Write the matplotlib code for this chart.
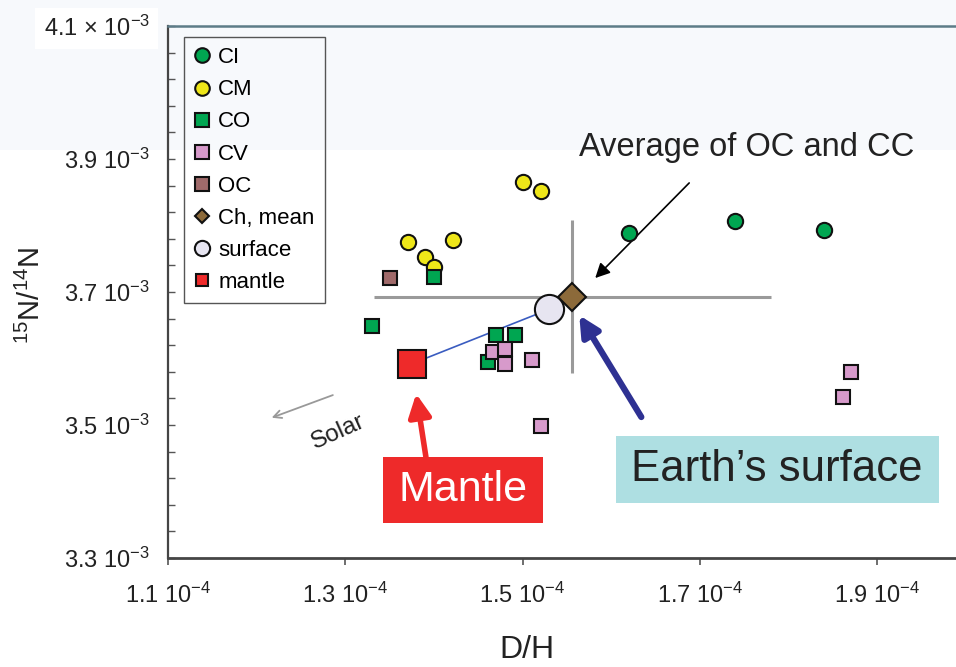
import matplotlib
matplotlib.use("Agg")
import matplotlib.pyplot as plt
from matplotlib.lines import Line2D
from matplotlib.patches import Rectangle

# ----------------------------------------------------------------------------
# Data (x = D/H in units of 1e-4, y = 15N/14N in units of 1e-3)
# ----------------------------------------------------------------------------
ci_x = [1.620, 1.740, 1.840]
ci_y = [3.789, 3.807, 3.793]

cm_x = [1.501, 1.521, 1.371, 1.421, 1.390, 1.400]
cm_y = [3.865, 3.852, 3.775, 3.778, 3.753, 3.738]

co_x = [1.400, 1.330, 1.470, 1.491, 1.461]
co_y = [3.723, 3.649, 3.635, 3.635, 3.595]

cv_x = [1.467, 1.480, 1.480, 1.511, 1.521, 1.871, 1.861]
cv_y = [3.610, 3.614, 3.592, 3.598, 3.499, 3.580, 3.542]

oc_x = [1.351]
oc_y = [3.721]

ch_mean_x, ch_mean_y = 1.556, 3.693
ch_xerr, ch_yerr = 0.224, 0.115

surface_x, surface_y = 1.530, 3.674
mantle_x, mantle_y = 1.375, 3.592

x_ticks = [1.1, 1.3, 1.5, 1.7, 1.9]
y_ticks = [3.3, 3.5, 3.7, 3.9, 4.1]
x_ticklabels = ["1.1 10$^{-4}$", "1.3 10$^{-4}$", "1.5 10$^{-4}$",
                "1.7 10$^{-4}$", "1.9 10$^{-4}$"]
y_ticklabels = ["3.3 10$^{-3}$", "3.5 10$^{-3}$", "3.7 10$^{-3}$",
                "3.9 10$^{-3}$", "4.1 \u00d7 10$^{-3}$"]

# ----------------------------------------------------------------------------
# Style
# ----------------------------------------------------------------------------
SANS = "Liberation Sans"
plt.rcParams["font.family"] = [SANS, "DejaVu Sans"]
plt.rcParams["mathtext.fontset"] = "custom"
plt.rcParams["mathtext.rm"] = SANS
plt.rcParams["mathtext.it"] = SANS + ":italic"
plt.rcParams["mathtext.default"] = "regular"

GREEN = "#00a651"
YELLOW = "#eee619"
PINK = "#d79acb"
BROWN = "#a06a6a"
DIAMOND = "#8c6a3a"
SURFACE = "#e7e5f1"
RED = "#ee2a2a"
NAVY = "#2e3192"
TEXT = "#222222"

fig = plt.figure(figsize=(9.56, 6.67), dpi=100)
# faint tint of the top band of the slide
fig.patches.append(Rectangle((0, 0.775), 1, 0.225, transform=fig.transFigure,
                             facecolor="#f7f9fc", edgecolor="none", zorder=-10))

ax = fig.add_axes([0.1757, 0.1634, 0.8243, 0.7976])
ax.set_facecolor("none")
ax.set_xlim(1.1, 1.989)
ax.set_ylim(3.3, 4.1)

# Ch mean error cross
ax.errorbar([ch_mean_x], [ch_mean_y], xerr=[ch_xerr], yerr=[ch_yerr], fmt="none",
            ecolor="#9a9a9a", elinewidth=2.2, capsize=0, zorder=2)

# mantle -> surface line
ax.plot([mantle_x, surface_x], [mantle_y, surface_y], color="#3a5cc0", lw=1.2, zorder=3)

mk = dict(markeredgecolor="#111111", markeredgewidth=1.5, linestyle="none", zorder=4)
ax.plot(ci_x, ci_y, "o", color=GREEN, ms=11, **mk)
ax.plot(cm_x, cm_y, "o", color=YELLOW, ms=11, **mk)
ax.plot(co_x, co_y, "s", color=GREEN, ms=10.5, **mk)
ax.plot(cv_x, cv_y, "s", color=PINK, ms=10.5, **mk)
ax.plot(oc_x, oc_y, "s", color=BROWN, ms=10.5, **mk)
ax.plot([mantle_x], [mantle_y], "s", color=RED, ms=19.5, **mk)
ax.plot([surface_x], [surface_y], "o", color=SURFACE, ms=21, **mk)
ax.plot([ch_mean_x], [ch_mean_y], "D", color=DIAMOND, ms=14, **mk)

# axes styling
ax.spines["right"].set_visible(False)
ax.spines["top"].set_color("#5d7c88")
ax.spines["top"].set_linewidth(1.8)
ax.spines["left"].set_color("#454545")
ax.spines["left"].set_linewidth(1.6)
ax.spines["bottom"].set_color("#454545")
ax.spines["bottom"].set_linewidth(2.0)

ax.set_xticks(x_ticks)
ax.set_xticklabels(x_ticklabels, fontsize=17, color=TEXT)
ax.set_yticks(y_ticks)
ax.set_yticklabels(y_ticklabels, fontsize=17, color=TEXT)
ax.set_yticks([3.3 + 0.04 * i for i in range(21)], minor=True)
ax.tick_params(axis="x", direction="out", length=5, width=1.2, pad=13, color="#555555")
ax.tick_params(axis="y", which="both", direction="in", length=5, width=1.0, pad=13,
               color="#555555")
top_label = ax.get_yticklabels()[-1]
top_label.set_bbox(dict(facecolor="white", edgecolor="none", pad=6))

ax.set_xlabel("D/H", fontsize=23, color=TEXT)
ax.xaxis.set_label_coords(0.4556, -0.145)
ax.set_ylabel("$^{15}$N/$^{14}$N", fontsize=21, color=TEXT)
ax.yaxis.set_label_coords(-0.155, 0.494)

# legend
handles = [
    Line2D([], [], marker="o", color=GREEN, ms=10.5, **mk),
    Line2D([], [], marker="o", color=YELLOW, ms=10.5, **mk),
    Line2D([], [], marker="s", color=GREEN, ms=10, **mk),
    Line2D([], [], marker="s", color=PINK, ms=10, **mk),
    Line2D([], [], marker="s", color=BROWN, ms=10, **mk),
    Line2D([], [], marker="D", color=DIAMOND, ms=7.5, **mk),
    Line2D([], [], marker="o", color=SURFACE, ms=11, **mk),
    Line2D([], [], marker="s", color=RED, ms=9, **mk),
]
labels = ["CI", "CM", "CO", "CV", "OC", "Ch, mean", "surface", "mantle"]
leg = ax.legend(handles, labels, loc="upper left", bbox_to_anchor=(0.020, 0.979),
                borderaxespad=0, fontsize=16, labelspacing=0.5, handlelength=0.7,
                handletextpad=0.4, borderpad=0.45, fancybox=False, framealpha=1)
leg.get_frame().set_facecolor("none")
leg.get_frame().set_edgecolor("#555555")
leg.get_frame().set_linewidth(1.0)

# annotations
ax.annotate("", xy=(1.582, 3.721), xytext=(1.688, 3.864),
            arrowprops=dict(arrowstyle="-|>", color="black", lw=1.2,
                            mutation_scale=22, shrinkA=0, shrinkB=0))
ax.text(1.753, 3.917, "Average of OC and CC", fontsize=23.5, ha="center", va="center",
        color=TEXT)

ax.annotate("", xy=(1.564, 3.665), xytext=(1.634, 3.512),
            arrowprops=dict(arrowstyle="-|>", color=NAVY, lw=4.5,
                            mutation_scale=30, shrinkA=0, shrinkB=0))
ax.add_patch(Rectangle((1.605, 3.383), 0.365, 0.100, facecolor="#aedfe2",
                       edgecolor="none", zorder=5))
ax.text(1.787, 3.433, "Earth\u2019s surface", fontsize=31.5, ha="center", va="center",
        color=TEXT, zorder=6)

ax.annotate("", xy=(1.380, 3.547), xytext=(1.391, 3.452),
            arrowprops=dict(arrowstyle="-|>", color=RED, lw=4.0,
                            mutation_scale=34, shrinkA=0, shrinkB=0))
ax.add_patch(Rectangle((1.343, 3.353), 0.180, 0.099, facecolor=RED,
                       edgecolor="none", zorder=5))
ax.text(1.433, 3.402, "Mantle", fontsize=31, ha="center", va="center",
        color="white", zorder=6)

ax.annotate("", xy=(1.217, 3.511), xytext=(1.286, 3.545),
            arrowprops=dict(arrowstyle="->", color="#999999", lw=1.3,
                            mutation_scale=14, shrinkA=0, shrinkB=0))
ax.text(1.292, 3.489, "Solar", fontsize=17.5, rotation=24, ha="center", va="center",
        color=TEXT)

fig.savefig("out.png", dpi=100)
